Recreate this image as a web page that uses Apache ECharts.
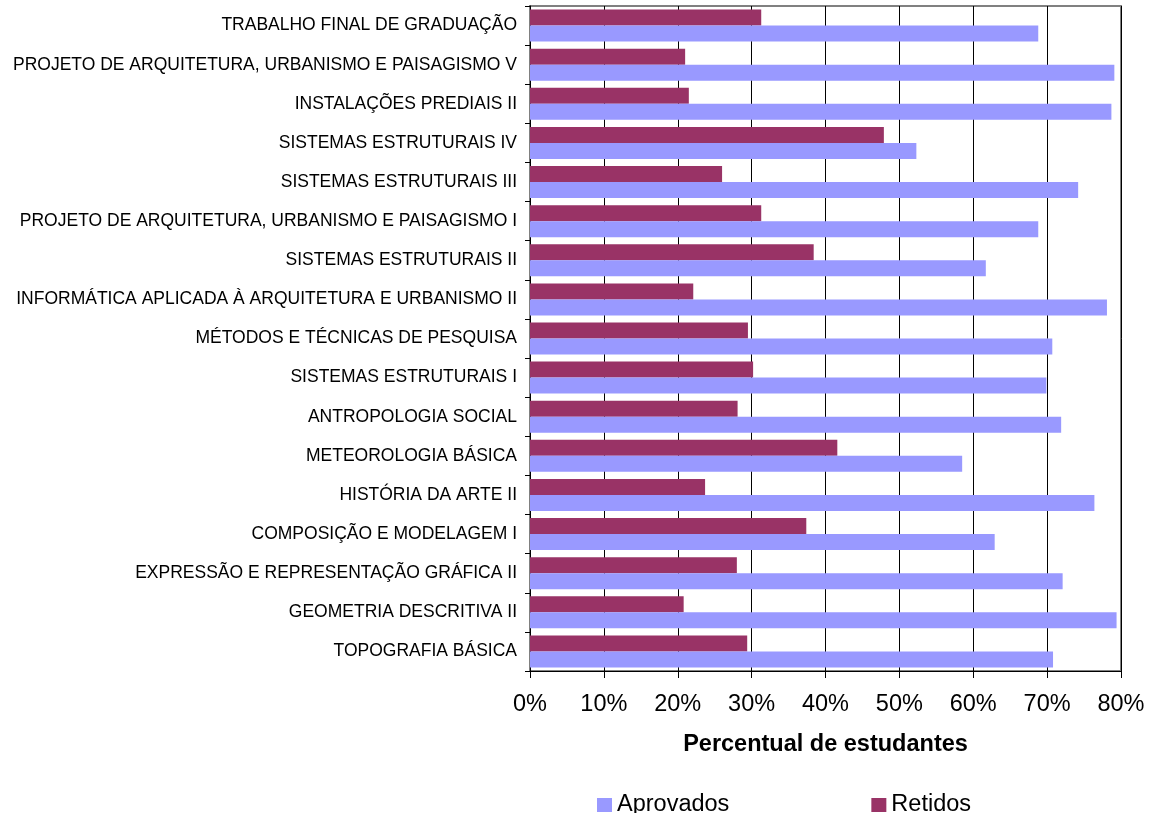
<!DOCTYPE html>
<html>
<head>
<meta charset="utf-8">
<script src="https://cdn.jsdelivr.net/npm/echarts@6/dist/echarts.min.js"></script>
<style>html,body{margin:0;padding:0;background:#fff;}#c{width:1152px;height:813px;}</style>
</head>
<body>
<div id="c"></div>
<script>
const categories = [
  "TRABALHO FINAL DE GRADUAÇÃO",
  "PROJETO DE ARQUITETURA, URBANISMO E PAISAGISMO V",
  "INSTALAÇÕES PREDIAIS II",
  "SISTEMAS ESTRUTURAIS IV",
  "SISTEMAS ESTRUTURAIS III",
  "PROJETO DE ARQUITETURA, URBANISMO E PAISAGISMO I",
  "SISTEMAS ESTRUTURAIS II",
  "INFORMÁTICA APLICADA À ARQUITETURA E URBANISMO II",
  "MÉTODOS E TÉCNICAS DE PESQUISA",
  "SISTEMAS ESTRUTURAIS I",
  "ANTROPOLOGIA SOCIAL",
  "METEOROLOGIA BÁSICA",
  "HISTÓRIA DA ARTE II",
  "COMPOSIÇÃO E MODELAGEM I",
  "EXPRESSÃO E REPRESENTAÇÃO GRÁFICA II",
  "GEOMETRIA DESCRITIVA II",
  "TOPOGRAFIA BÁSICA"
];
const aprovados = [68.8, 79.1, 78.7, 52.3, 74.2, 68.8, 61.7, 78.1, 70.7, 69.9, 71.9, 58.5, 76.4, 62.9, 72.1, 79.4, 70.8];
const retidos   = [31.3, 21.0, 21.5, 47.9, 26.0, 31.3, 38.4, 22.1, 29.5, 30.2, 28.1, 41.6, 23.7, 37.4, 28.0, 20.8, 29.4];
const xTicks = [0, 10, 20, 30, 40, 50, 60, 70, 80];

const chart = echarts.init(document.getElementById('c'));
const font = 'Liberation Sans, Arial, sans-serif';
chart.setOption({
  animation: false,
  textStyle: { fontFamily: font },
  grid: { left: 530, right: 31, top: 6, bottom: 142, show: true, borderColor: '#808080', borderWidth: 2 },
  legend: {
    data: ['Aprovados', 'Retidos'],
    left: 597, top: 793, padding: 0,
    itemGap: 142, itemWidth: 15, itemHeight: 14,
    icon: 'rect',
    textStyle: { fontSize: 23.5, color: '#000', fontFamily: font }
  },
  xAxis: {
    type: 'value', min: xTicks[0], max: xTicks[xTicks.length - 1], interval: 10,
    name: 'Percentual de estudantes', nameLocation: 'middle', nameGap: 62,
    nameTextStyle: { fontSize: 23.5, fontWeight: 'bold', color: '#000', fontFamily: font },
    axisLine: { show: true, lineStyle: { color: '#000', width: 1 } },
    axisTick: { show: true, length: 7, lineStyle: { color: '#000' } },
    axisLabel: { fontSize: 23.5, color: '#000', margin: 22, formatter: v => v + '%' },
    splitLine: { show: true, lineStyle: { color: '#000', width: 1 } }
  },
  yAxis: {
    type: 'category', data: categories, inverse: true,
    axisLine: { show: true, lineStyle: { color: '#000', width: 1 } },
    axisTick: { show: true, length: 5, lineStyle: { color: '#000' } },
    axisLabel: { fontSize: 17.5, color: '#000', margin: 13, padding: [5, 0, 0, 0] },
    splitLine: { show: false }
  },
  series: [
    { name: 'Retidos', type: 'bar', data: retidos, barWidth: 16, barGap: '0%', barCategoryGap: '18%', itemStyle: { color: '#993366' } },
    { name: 'Aprovados', type: 'bar', data: aprovados, barWidth: 16, barGap: '0%', itemStyle: { color: '#9999FF' } }
  ]
});
</script>
</body>
</html>
